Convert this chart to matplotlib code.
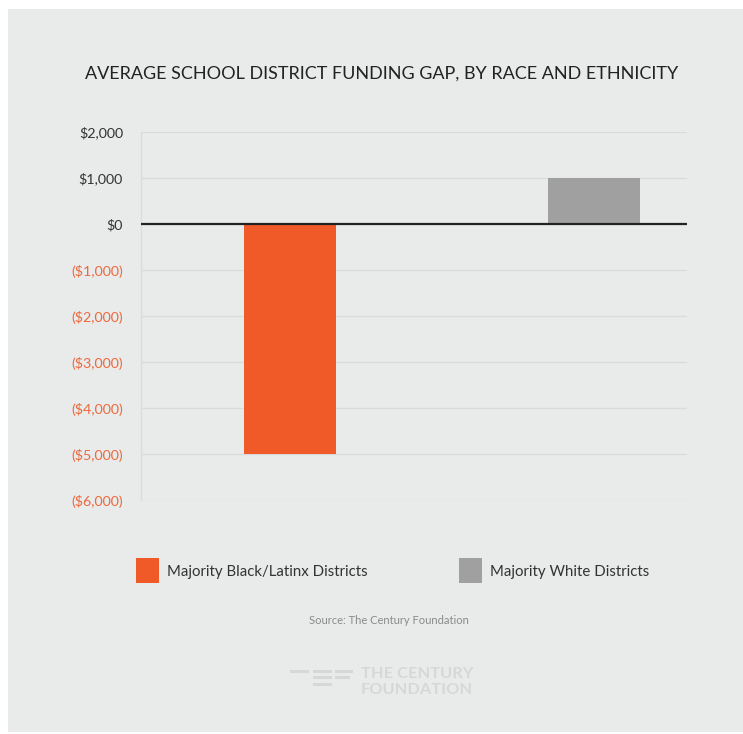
import matplotlib.pyplot as plt
from matplotlib.patches import Rectangle

plt.rcParams['font.family'] = ['Lato', 'DejaVu Sans']

# data
groups = ['Majority Black/Latinx Districts', 'Majority White Districts']
funding_gap = [-5000, 1000]
bar_colors = ['#f05a28', '#a0a0a0']
y_ticks = [2000, 1000, 0, -1000, -2000, -3000, -4000, -5000, -6000]

W, H = 743, 734
BG = '#e9eaea'


def px(x, y):
    # pixel position (from top-left) -> figure fraction
    return x / W, 1 - y / H


def money(v):
    if v < 0:
        return '(${:,})'.format(-v)
    return '${:,}'.format(v)


fig = plt.figure(figsize=(W / 100, H / 100), dpi=100)
fig.patch.set_facecolor('white')

# grey card behind everything
x0, y0 = px(8, 732)
fig.patches.append(Rectangle((x0, y0), (743 - 8) / W, (732 - 9) / H,
                             transform=fig.transFigure, facecolor=BG,
                             edgecolor='none', zorder=-10))

ax = fig.add_axes([141 / W, 1 - 500 / H, 546 / W, 368 / H])
ax.set_facecolor('none')

xs = list(range(len(groups)))
ax.bar(xs, funding_gap, width=0.305, color=bar_colors, zorder=3)

ax.set_xlim(-0.49, 1.306)
ax.set_ylim(-6000, 2000)

for v in y_ticks:
    if v == 0:
        ax.axhline(v, color='#222222', lw=1.6, zorder=4)
    else:
        ax.axhline(v, color='#dadbdb', lw=1.0, zorder=1)

for s in ['top', 'right', 'bottom']:
    ax.spines[s].set_visible(False)
ax.spines['left'].set_color('#dadbdb')
ax.spines['left'].set_linewidth(1.0)

ax.set_xticks([])
ax.set_yticks(y_ticks)
ax.set_yticklabels([money(v) for v in y_ticks], fontsize=10.3)
ax.tick_params(axis='y', length=0, pad=13)
for lbl, v in zip(ax.get_yticklabels(), y_ticks):
    lbl.set_color('#ec6a3e' if v < 0 else '#333333')

# title
fig.text(*px(382, 74), 'AVERAGE SCHOOL DISTRICT FUNDING GAP, BY RACE AND ETHNICITY',
         ha='center', va='center', fontsize=13, color='#222222')

# legend
legend_items = [(136, groups[0], bar_colors[0]), (459, groups[1], bar_colors[1])]
for lx, name, col in legend_items:
    bx, by = px(lx, 583)
    fig.patches.append(Rectangle((bx, by), 23 / W, 25 / H, transform=fig.transFigure,
                                 facecolor=col, edgecolor='none'))
    fig.text(*px(lx + 31, 572), name, ha='left', va='center',
             fontsize=10.8, color='#333333')

fig.text(*px(389, 620), 'Source: The Century Foundation', ha='center', va='center',
         fontsize=8, color='#8a8a8a')

# foundation mark
logo_col = '#d6d7d7'
stripes = [(290, 309, 670), (313, 332, 670), (335, 353, 670),
           (313, 332, 676), (335, 350, 676),
           (313, 332, 683)]
for a, b, yy in stripes:
    sx, sy = px(a, yy + 3)
    fig.patches.append(Rectangle((sx, sy), (b - a) / W, 3 / H, transform=fig.transFigure,
                                 facecolor=logo_col, edgecolor='none'))
fig.text(*px(361, 674), 'THE CENTURY', ha='left', va='center', fontsize=11.8,
         fontweight='bold', color=logo_col)
fig.text(*px(361, 690), 'FOUNDATION', ha='left', va='center', fontsize=11.8,
         fontweight='bold', color=logo_col)

fig.savefig('out.png', dpi=100, facecolor=fig.get_facecolor())
